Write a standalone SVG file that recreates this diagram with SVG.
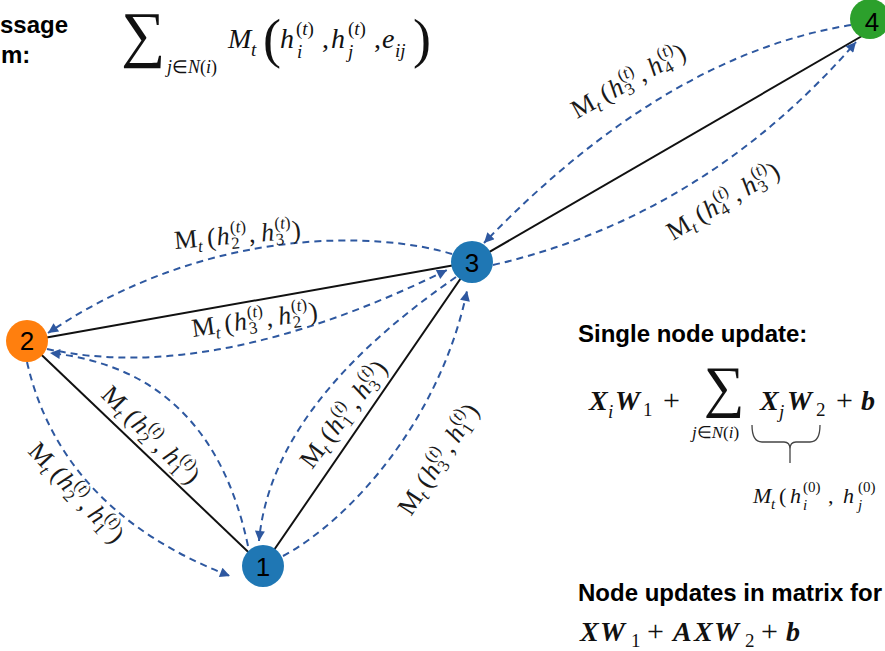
<svg xmlns="http://www.w3.org/2000/svg" width="885" height="651" viewBox="0 0 885 651">
<style>
.hd{font-family:"Liberation Sans",Arial,sans-serif;font-weight:bold;font-size:24px;fill:#000}
.m{font-family:"Liberation Serif","Times New Roman",serif;fill:#111}
.i{font-style:italic}
.bi{font-weight:bold;font-style:italic}
.lb{font-family:"Liberation Serif","Times New Roman",serif;font-size:26px;fill:#1a1a1a}
.s{font-size:17px}
.edge{stroke:#111;stroke-width:2;fill:none}
.msg{stroke:#2E58A0;stroke-width:2;stroke-dasharray:7 5;fill:none}
.nd{font-family:"Liberation Sans",Arial,sans-serif;font-size:26px;text-anchor:middle;fill:#000}
</style>
<defs>
<marker id="ah" viewBox="0 0 10 10" refX="10" refY="5" markerWidth="12" markerHeight="10" markerUnits="userSpaceOnUse" orient="auto"><path d="M0,0 L10,5 L0,10 z" fill="#2E58A0"/></marker>
</defs>
<rect width="885" height="651" fill="#fff"/>

<g id="message-sum">
<text class="hd" x="0" y="33">ssage</text>
<text class="hd" x="1" y="63">m:</text>
<text class="m" x="121" y="55" font-size="62">∑</text>
<text class="m" font-size="18" y="73"><tspan x="167" class="i">j</tspan><tspan>∈</tspan><tspan class="i">N</tspan><tspan>(</tspan><tspan class="i">i</tspan><tspan>)</tspan></text>
<text class="m i" x="228" y="48" font-size="28">M</text>
<text class="m i" x="251" y="56" font-size="19">t</text>
<text class="m" x="263" y="57" font-size="54">(</text>
<text class="m i" x="280" y="48" font-size="28">h</text>
<text class="m i" x="297" y="58" font-size="19">i</text>
<text class="m" x="296" y="35" font-size="19">(<tspan class="i">t</tspan>)</text>
<text class="m" x="322" y="48" font-size="28">,</text>
<text class="m i" x="331" y="48" font-size="28">h</text>
<text class="m i" x="348" y="58" font-size="19">j</text>
<text class="m" x="348" y="35" font-size="19">(<tspan class="i">t</tspan>)</text>
<text class="m" x="374" y="48" font-size="28">,</text>
<text class="m i" x="382" y="48" font-size="28">e</text>
<text class="m i" x="395" y="57" font-size="19">ij</text>
<text class="m" x="413" y="57" font-size="54">)</text>
</g>

<g id="connectors">
<line class="edge" x1="27" y1="341" x2="263" y2="566"/>
<line class="edge" x1="27" y1="341" x2="472" y2="262"/>
<line class="edge" x1="263" y1="566" x2="472" y2="262"/>
<line class="edge" x1="472" y1="262" x2="862" y2="36"/>
<path class="msg" marker-end="url(#ah)" d="M452,254 C380,232 210,224 48,333"/>
<path class="msg" marker-end="url(#ah)" d="M47,349 Q213,385 447,270"/>
<path class="msg" marker-end="url(#ah)" d="M248,546 Q211,370 50,353"/>
<path class="msg" marker-end="url(#ah)" d="M27,362 Q61,511 230,576"/>
<path class="msg" marker-end="url(#ah)" d="M456,277 C380,330 270,420 259,541"/>
<path class="msg" marker-end="url(#ah)" d="M283,556 C350,520 440,420 467,291"/>
<path class="msg" marker-end="url(#ah)" d="M851,25 Q665,55 484,243"/>
<path class="msg" marker-end="url(#ah)" d="M493,265 Q705,216 856,42"/>
</g>

<g id="edge-labels">
<text class="lb" transform="translate(175,249) rotate(-5)">M<tspan class="s i" dy="5">t</tspan><tspan dx="5" dy="-5">(</tspan><tspan class="i" dx="1">h</tspan><tspan class="s" dx="1" dy="5">2</tspan><tspan class="s" dx="-8.5" dy="-16">(<tspan class="i">t</tspan>)</tspan><tspan dx="2" dy="11">,</tspan><tspan class="i" dx="6">h</tspan><tspan class="s" dx="1" dy="5">3</tspan><tspan class="s" dx="-8.5" dy="-16">(<tspan class="i">t</tspan>)</tspan><tspan dx="1" dy="11">)</tspan></text>
<text class="lb" transform="translate(193,337) rotate(-8)">M<tspan class="s i" dy="5">t</tspan><tspan dx="5" dy="-5">(</tspan><tspan class="i" dx="1">h</tspan><tspan class="s" dx="1" dy="5">3</tspan><tspan class="s" dx="-8.5" dy="-16">(<tspan class="i">t</tspan>)</tspan><tspan dx="2" dy="11">,</tspan><tspan class="i" dx="6">h</tspan><tspan class="s" dx="1" dy="5">2</tspan><tspan class="s" dx="-8.5" dy="-16">(<tspan class="i">t</tspan>)</tspan><tspan dx="1" dy="11">)</tspan></text>
<text class="lb" transform="translate(577,119) rotate(-29)">M<tspan class="s i" dy="5">t</tspan><tspan dx="5" dy="-5">(</tspan><tspan class="i" dx="1">h</tspan><tspan class="s" dx="1" dy="5">3</tspan><tspan class="s" dx="-8.5" dy="-16">(<tspan class="i">t</tspan>)</tspan><tspan dx="2" dy="11">,</tspan><tspan class="i" dx="6">h</tspan><tspan class="s" dx="1" dy="5">4</tspan><tspan class="s" dx="-8.5" dy="-16">(<tspan class="i">t</tspan>)</tspan><tspan dx="1" dy="11">)</tspan></text>
<text class="lb" transform="translate(673,241) rotate(-31)">M<tspan class="s i" dy="5">t</tspan><tspan dx="5" dy="-5">(</tspan><tspan class="i" dx="1">h</tspan><tspan class="s" dx="1" dy="5">4</tspan><tspan class="s" dx="-8.5" dy="-16">(<tspan class="i">t</tspan>)</tspan><tspan dx="2" dy="11">,</tspan><tspan class="i" dx="6">h</tspan><tspan class="s" dx="1" dy="5">3</tspan><tspan class="s" dx="-8.5" dy="-16">(<tspan class="i">t</tspan>)</tspan><tspan dx="1" dy="11">)</tspan></text>
<text class="lb" transform="translate(312,470) rotate(-53)">M<tspan class="s i" dy="5">t</tspan><tspan dx="5" dy="-5">(</tspan><tspan class="i" dx="1">h</tspan><tspan class="s" dx="1" dy="5">1</tspan><tspan class="s" dx="-8.5" dy="-16">(<tspan class="i">t</tspan>)</tspan><tspan dx="2" dy="11">,</tspan><tspan class="i" dx="6">h</tspan><tspan class="s" dx="1" dy="5">3</tspan><tspan class="s" dx="-8.5" dy="-16">(<tspan class="i">t</tspan>)</tspan><tspan dx="1" dy="11">)</tspan></text>
<text class="lb" transform="translate(411,517) rotate(-57)">M<tspan class="s i" dy="5">t</tspan><tspan dx="5" dy="-5">(</tspan><tspan class="i" dx="1">h</tspan><tspan class="s" dx="1" dy="5">3</tspan><tspan class="s" dx="-8.5" dy="-16">(<tspan class="i">t</tspan>)</tspan><tspan dx="2" dy="11">,</tspan><tspan class="i" dx="6">h</tspan><tspan class="s" dx="1" dy="5">1</tspan><tspan class="s" dx="-8.5" dy="-16">(<tspan class="i">t</tspan>)</tspan><tspan dx="1" dy="11">)</tspan></text>
<text class="lb" transform="translate(100,396) rotate(45)">M<tspan class="s i" dy="5">t</tspan><tspan dx="5" dy="-5">(</tspan><tspan class="i" dx="1">h</tspan><tspan class="s" dx="1" dy="5">2</tspan><tspan class="s" dx="-8.5" dy="-16">(<tspan class="i">t</tspan>)</tspan><tspan dx="2" dy="11">,</tspan><tspan class="i" dx="6">h</tspan><tspan class="s" dx="1" dy="5">1</tspan><tspan class="s" dx="-8.5" dy="-16">(<tspan class="i">t</tspan>)</tspan><tspan dx="1" dy="11">)</tspan></text>
<text class="lb" transform="translate(27,452) rotate(47)">M<tspan class="s i" dy="5">t</tspan><tspan dx="5" dy="-5">(</tspan><tspan class="i" dx="1">h</tspan><tspan class="s" dx="1" dy="5">2</tspan><tspan class="s" dx="-8.5" dy="-16">(<tspan class="i">t</tspan>)</tspan><tspan dx="2" dy="11">,</tspan><tspan class="i" dx="6">h</tspan><tspan class="s" dx="1" dy="5">1</tspan><tspan class="s" dx="-8.5" dy="-16">(<tspan class="i">t</tspan>)</tspan><tspan dx="1" dy="11">)</tspan></text>
</g>

<g id="node-1"><circle cx="263" cy="566" r="21" fill="#1F77B4"/><text class="nd" x="263" y="576">1</text></g>
<g id="node-2"><circle cx="27" cy="341" r="21" fill="#FF7F0E"/><text class="nd" x="27" y="350">2</text></g>
<g id="node-3"><circle cx="472" cy="262" r="21" fill="#1F77B4"/><text class="nd" x="472" y="272">3</text></g>
<g id="node-4"><circle cx="870" cy="19" r="20" fill="#2CA02C"/><text class="nd" x="872" y="31">4</text></g>

<g id="single-node-update">
<text class="hd" x="578" y="342">Single node update:</text>
<text class="m bi" x="589" y="410" font-size="28">X</text>
<text class="m i" x="608" y="418" font-size="19">i</text>
<text class="m bi" x="615" y="410" font-size="28">W</text>
<text class="m" x="643" y="416" font-size="19">1</text>
<text class="m" x="663" y="410" font-size="30">+</text>
<text class="m" x="704" y="406" font-size="57">∑</text>
<text class="m" font-size="17" y="438"><tspan x="692" class="i">j</tspan><tspan>∈</tspan><tspan class="i">N</tspan><tspan>(</tspan><tspan class="i">i</tspan><tspan>)</tspan></text>
<text class="m bi" x="760" y="410" font-size="28">X</text>
<text class="m i" x="779" y="418" font-size="19">j</text>
<text class="m bi" x="787" y="410" font-size="28">W</text>
<text class="m" x="816" y="416" font-size="19">2</text>
<text class="m" x="836" y="410" font-size="30">+</text>
<text class="m bi" x="861" y="410" font-size="28">b</text>
<path d="M752,425 Q752,442 762,442 L784,442 Q790,442 790,449 L790,463 M790,449 Q790,442 796,442 L810,442 Q820,442 820,425" fill="none" stroke="#444" stroke-width="1.3"/>
<text class="m i" x="753" y="503" font-size="22">M</text>
<text class="m i" x="771" y="509" font-size="15">t</text>
<text class="m" x="779" y="503" font-size="22">(</text>
<text class="m i" x="790" y="503" font-size="22">h</text>
<text class="m i" x="803" y="510" font-size="15">i</text>
<text class="m" x="803" y="492" font-size="15">(0)</text>
<text class="m" x="828" y="503" font-size="22">,</text>
<text class="m i" x="843" y="503" font-size="22">h</text>
<text class="m i" x="858" y="510" font-size="15">j</text>
<text class="m" x="858" y="492" font-size="15">(0)</text>
</g>

<g id="matrix-form">
<text class="hd" x="578" y="601">Node updates in matrix for</text>
<text class="m bi" x="580" y="641" font-size="28">X</text>
<text class="m bi" x="600" y="641" font-size="28">W</text>
<text class="m" x="631" y="647" font-size="19">1</text>
<text class="m" x="647" y="641" font-size="30">+</text>
<text class="m bi" x="673" y="641" font-size="28">A</text>
<text class="m bi" x="694" y="641" font-size="28">X</text>
<text class="m bi" x="714" y="641" font-size="28">W</text>
<text class="m" x="745" y="647" font-size="19">2</text>
<text class="m" x="761" y="641" font-size="30">+</text>
<text class="m bi" x="786" y="641" font-size="28">b</text>
</g>
</svg>
